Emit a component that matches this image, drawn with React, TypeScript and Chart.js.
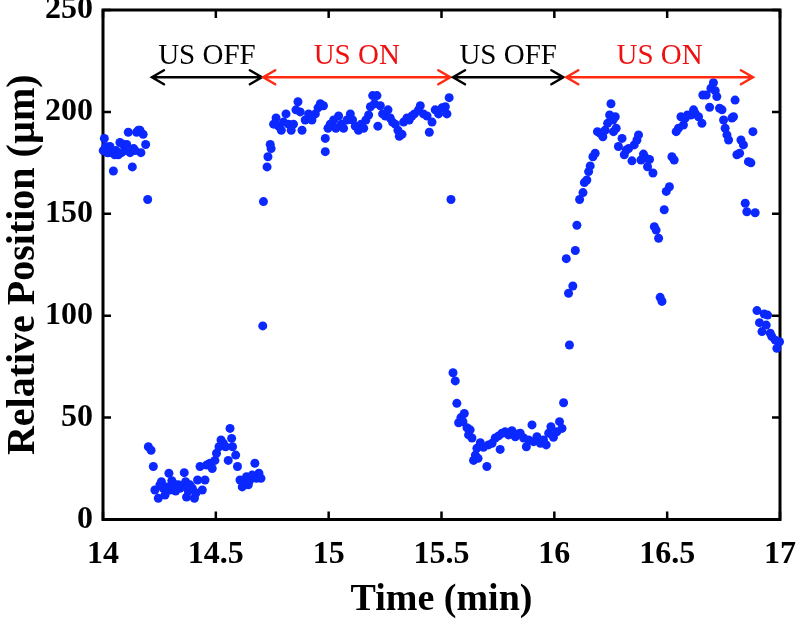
import React, { useEffect, useRef } from "react";
import { Chart, registerables } from "chart.js";

Chart.register(...registerables);

const FONT = '"Liberation Serif", "Times New Roman", serif';
const DOT_COLOR = "#0a28ff";

// Measured points [time (min), relative position (µm)]
const offPhase1Start: [number, number][] = [
  [14.001, 181], [14.006, 187], [14.012, 183], [14.018, 180], [14.023, 180], [14.031, 183],
  [14.038, 180], [14.046, 171], [14.052, 179], [14.058, 181], [14.068, 179], [14.075, 185],
  [14.082, 180], [14.09, 184], [14.098, 181], [14.105, 184], [14.112, 190], [14.12, 180],
  [14.13, 173], [14.136, 182], [14.142, 181], [14.149, 190], [14.157, 191], [14.164, 191],
  [14.168, 180], [14.178, 189], [14.189, 184], [14.198, 157],
];

const offPhase1: [number, number][] = [
  [14.201, 35.7], [14.213, 34], [14.223, 26], [14.23, 14.5], [14.245, 10.4], [14.252, 17],
  [14.259, 18.5], [14.267, 15.3], [14.275, 12], [14.282, 16], [14.292, 22.7], [14.297, 14.5],
  [14.305, 19], [14.311, 17.8], [14.322, 14], [14.334, 17], [14.341, 15.3], [14.35, 16],
  [14.36, 23], [14.366, 18.5], [14.37, 11], [14.378, 14], [14.385, 17], [14.396, 15.3],
  [14.405, 10.4], [14.412, 13], [14.419, 19.4], [14.43, 26], [14.44, 14.5], [14.452, 19.4],
  [14.459, 26.7], [14.467, 27], [14.474, 27.6], [14.484, 25], [14.496, 29], [14.503, 32.5],
  [14.514, 35.7], [14.523, 39], [14.533, 37.4], [14.543, 35.7], [14.555, 29], [14.563, 44.7],
  [14.57, 39.8], [14.574, 35.7], [14.588, 31.6], [14.596, 26], [14.607, 19.4], [14.617, 16],
  [14.626, 18.5], [14.636, 21], [14.644, 17], [14.651, 19.4], [14.661, 21.8], [14.673, 27.6],
  [14.68, 20.2], [14.691, 22.7], [14.7, 20.2], [14.708, 95], [14.711, 156],
];

const onPhase1: [number, number][] = [
  [14.727, 173], [14.731, 178], [14.741, 184], [14.745, 182], [14.756, 194], [14.767, 197],
  [14.778, 193], [14.79, 191], [14.8, 195], [14.811, 199], [14.822, 194], [14.834, 191],
  [14.844, 194], [14.855, 201], [14.864, 205], [14.874, 200], [14.882, 191], [14.896, 196],
  [14.911, 199], [14.926, 196], [14.941, 199], [14.953, 202], [14.963, 204], [14.977, 203],
  [14.985, 187], [14.985, 180.5], [14.997, 192], [15.007, 194], [15.022, 196], [15.032, 192],
  [15.044, 198], [15.056, 194], [15.066, 192], [15.081, 196], [15.096, 199], [15.106, 196],
  [15.118, 193], [15.132, 191], [15.144, 194], [15.155, 192], [15.165, 196], [15.177, 198.5],
  [15.185, 202.5], [15.195, 208], [15.203, 204], [15.214, 208], [15.218, 193], [15.229, 203],
  [15.239, 199], [15.251, 198], [15.263, 201], [15.273, 197], [15.283, 195], [15.295, 194],
  [15.307, 191], [15.313, 188], [15.325, 189], [15.332, 195], [15.347, 197], [15.357, 196],
  [15.369, 198], [15.38, 199], [15.398, 201], [15.406, 203], [15.42, 199], [15.436, 198],
  [15.446, 190], [15.458, 195], [15.472, 201], [15.487, 199], [15.502, 202], [15.517, 202.5],
  [15.524, 199], [15.534, 207], [15.542, 157],
];

const offPhase2: [number, number][] = [
  [15.551, 72], [15.561, 68], [15.568, 57], [15.576, 47.5], [15.586, 50], [15.595, 48],
  [15.601, 52], [15.613, 45], [15.62, 41.5], [15.627, 44], [15.635, 40], [15.642, 29],
  [15.65, 31.6], [15.657, 35], [15.662, 30], [15.672, 37.7], [15.686, 35.4], [15.701, 26],
  [15.708, 36.6], [15.724, 37.4], [15.738, 40], [15.753, 41], [15.76, 34.4], [15.768, 42.3],
  [15.782, 43], [15.797, 41.5], [15.812, 43.6], [15.827, 40.6], [15.838, 42], [15.849, 42.3],
  [15.864, 40], [15.876, 35.7], [15.886, 39], [15.901, 46.4], [15.908, 38.2], [15.923, 40.6],
  [15.938, 37.4], [15.952, 39], [15.964, 36.6], [15.975, 42.3], [15.985, 45.5], [15.996, 40.3],
  [16.011, 43], [16.023, 48], [16.034, 44.7], [16.041, 57.3],
];

const onPhase2: [number, number][] = [
  [16.053, 128], [16.063, 111], [16.067, 85.6], [16.082, 114.6], [16.093, 132], [16.1, 144.4],
  [16.112, 157], [16.127, 160.4], [16.133, 165.3], [16.144, 166.6], [16.152, 170.7], [16.159, 173.5],
  [16.171, 178], [16.181, 179.7], [16.191, 190.3], [16.203, 189.5], [16.215, 187.8], [16.225, 191],
  [16.236, 194.4], [16.245, 198.5], [16.251, 204], [16.26, 196], [16.262, 190.3], [16.27, 197.6],
  [16.274, 192], [16.284, 183], [16.3, 187], [16.31, 179], [16.319, 181.3], [16.329, 182],
  [16.344, 176], [16.354, 183.8], [16.366, 186.2], [16.373, 188.7], [16.384, 176.4], [16.395, 179.3],
  [16.407, 177.2], [16.413, 173.1], [16.422, 176.7], [16.437, 170], [16.443, 143.7], [16.451, 142],
  [16.462, 138], [16.469, 109], [16.477, 107], [16.487, 152], [16.496, 161], [16.51, 163.3],
  [16.521, 178], [16.531, 176.4], [16.54, 190.3], [16.55, 192], [16.561, 197.6], [16.572, 193.6],
  [16.58, 197], [16.59, 198.5], [16.605, 198.5], [16.617, 201], [16.624, 199.3], [16.639, 197.6],
  [16.654, 194.4], [16.658, 208.3], [16.673, 208.3], [16.688, 202.3], [16.694, 211.6], [16.705, 214.3],
  [16.713, 210.4], [16.72, 207.5], [16.732, 201.8], [16.743, 201], [16.75, 196], [16.757, 192],
  [16.765, 188.7], [16.772, 186.2], [16.787, 197], [16.794, 197.6], [16.801, 205.8], [16.809, 179],
  [16.821, 179.7], [16.827, 186.2], [16.838, 183.8], [16.846, 155.2], [16.853, 151], [16.86, 175.6],
  [16.871, 175], [16.88, 190.3], [16.89, 150.5],
];

const offPhase3Start: [number, number][] = [
  [16.898, 102.5], [16.909, 96.6], [16.92, 92.2], [16.93, 100.8], [16.939, 95.4], [16.945, 100.3],
  [16.957, 91.4], [16.964, 89.7], [16.979, 88], [16.986, 84], [16.998, 87.2],
];

// Phase annotations (arrows)
const phaseLabels = ["US OFF", "US ON", "US OFF", "US ON"];
const phaseStart = [14.217, 14.71, 15.551, 16.053];
const phaseEnd = [14.704, 15.539, 16.04, 16.88];
const phaseColors = ["#000000", "#ff2a10", "#000000", "#ff2a10"];
const phaseTextColors = ["#000000", "#ee1111", "#000000", "#ee1111"];
const arrowLevel = 217;
const labelLevel = 227;

const annotationPlugin = {
  id: "matlabFrame",
  beforeDatasetsDraw(chart: any) {
    const { ctx, chartArea } = chart;
    const { left, right, top, bottom } = chartArea;
    const xs = chart.scales.x;
    const ys = chart.scales.y;
    ctx.save();
    ctx.strokeStyle = "#000";
    ctx.lineWidth = 3;
    ctx.strokeRect(left, top, right - left, bottom - top);
    ctx.lineWidth = 2.5;
    const tl = 8;
    ctx.beginPath();
    xs.ticks.forEach((t: any) => {
      const px = xs.getPixelForValue(t.value);
      ctx.moveTo(px, bottom);
      ctx.lineTo(px, bottom - tl);
      ctx.moveTo(px, top);
      ctx.lineTo(px, top + tl);
    });
    ys.ticks.forEach((t: any) => {
      const py = ys.getPixelForValue(t.value);
      ctx.moveTo(left, py);
      ctx.lineTo(left + tl, py);
      ctx.moveTo(right, py);
      ctx.lineTo(right - tl, py);
    });
    ctx.stroke();
    ctx.restore();
  },
  afterDatasetsDraw(chart: any) {
    const { ctx } = chart;
    const xs = chart.scales.x;
    const ys = chart.scales.y;
    const ay = ys.getPixelForValue(arrowLevel);
    const ty = ys.getPixelForValue(labelLevel);
    ctx.save();
    phaseLabels.forEach((label, i) => {
      const x1 = xs.getPixelForValue(phaseStart[i]);
      const x2 = xs.getPixelForValue(phaseEnd[i]);
      ctx.strokeStyle = phaseColors[i];
      ctx.lineWidth = 2.5;
      ctx.lineCap = "round";
      ctx.beginPath();
      ctx.moveTo(x1, ay);
      ctx.lineTo(x2, ay);
      ctx.moveTo(x1 + 12, ay - 7);
      ctx.lineTo(x1, ay);
      ctx.lineTo(x1 + 12, ay + 7);
      ctx.moveTo(x2 - 12, ay - 7);
      ctx.lineTo(x2, ay);
      ctx.lineTo(x2 - 12, ay + 7);
      ctx.stroke();
      ctx.fillStyle = phaseTextColors[i];
      ctx.font = `29px ${FONT}`;
      ctx.textAlign = "center";
      ctx.textBaseline = "middle";
      ctx.fillText(label, (x1 + x2) / 2, ty);
    });
    ctx.restore();
  },
};

export default function App() {
  const ref = useRef<HTMLCanvasElement>(null);
  useEffect(() => {
    document.body.style.margin = "0";
    const all = [
      ...offPhase1Start,
      ...offPhase1,
      ...onPhase1,
      ...offPhase2,
      ...onPhase2,
      ...offPhase3Start,
    ].map(([x, y]) => ({ x, y }));
    const tickFont = { family: FONT, weight: "bold" as const, size: 32 };
    const chart = new Chart(ref.current!, {
      type: "scatter",
      data: {
        datasets: [
          {
            data: all,
            backgroundColor: DOT_COLOR,
            borderColor: DOT_COLOR,
            borderWidth: 0,
            pointRadius: 4.5,
            clip: false as any,
          },
        ],
      },
      options: {
        responsive: false,
        animation: false,
        layout: { padding: { top: 10, right: 20, left: 0, bottom: 0 } },
        plugins: { legend: { display: false }, tooltip: { enabled: false } },
        scales: {
          x: {
            type: "linear",
            min: 14,
            max: 17,
            grid: { display: false, drawTicks: false },
            border: { display: false },
            ticks: {
              stepSize: 0.5,
              font: tickFont,
              color: "#000",
              padding: 16,
              maxRotation: 0,
              autoSkip: false,
              callback: (v: any) => String(Number(v)),
            },
            title: {
              display: true,
              text: "Time (min)",
              color: "#000",
              font: { family: FONT, weight: "bold", size: 38 },
              padding: { top: 0, bottom: 1 },
            },
            afterFit: (s: any) => {
              s.height = 104.5;
              s.paddingLeft = 0;
              s.paddingRight = 0;
            },
          },
          y: {
            min: 0,
            max: 250,
            grid: { display: false, drawTicks: false },
            border: { display: false },
            ticks: {
              stepSize: 50,
              font: tickFont,
              color: "#000",
              padding: 10,
            },
            title: {
              display: true,
              text: "Relative Position (µm)",
              color: "#000",
              font: { family: FONT, weight: "bold", size: 40 },
              padding: { top: 0, bottom: 0 },
            },
            afterFit: (s: any) => {
              s.width = 103;
              s.paddingTop = 0;
              s.paddingBottom = 0;
            },
          },
        },
      },
      plugins: [annotationPlugin],
    });
    return () => chart.destroy();
  }, []);
  return <canvas ref={ref} width={800} height={624} style={{ display: "block" }} />;
}
